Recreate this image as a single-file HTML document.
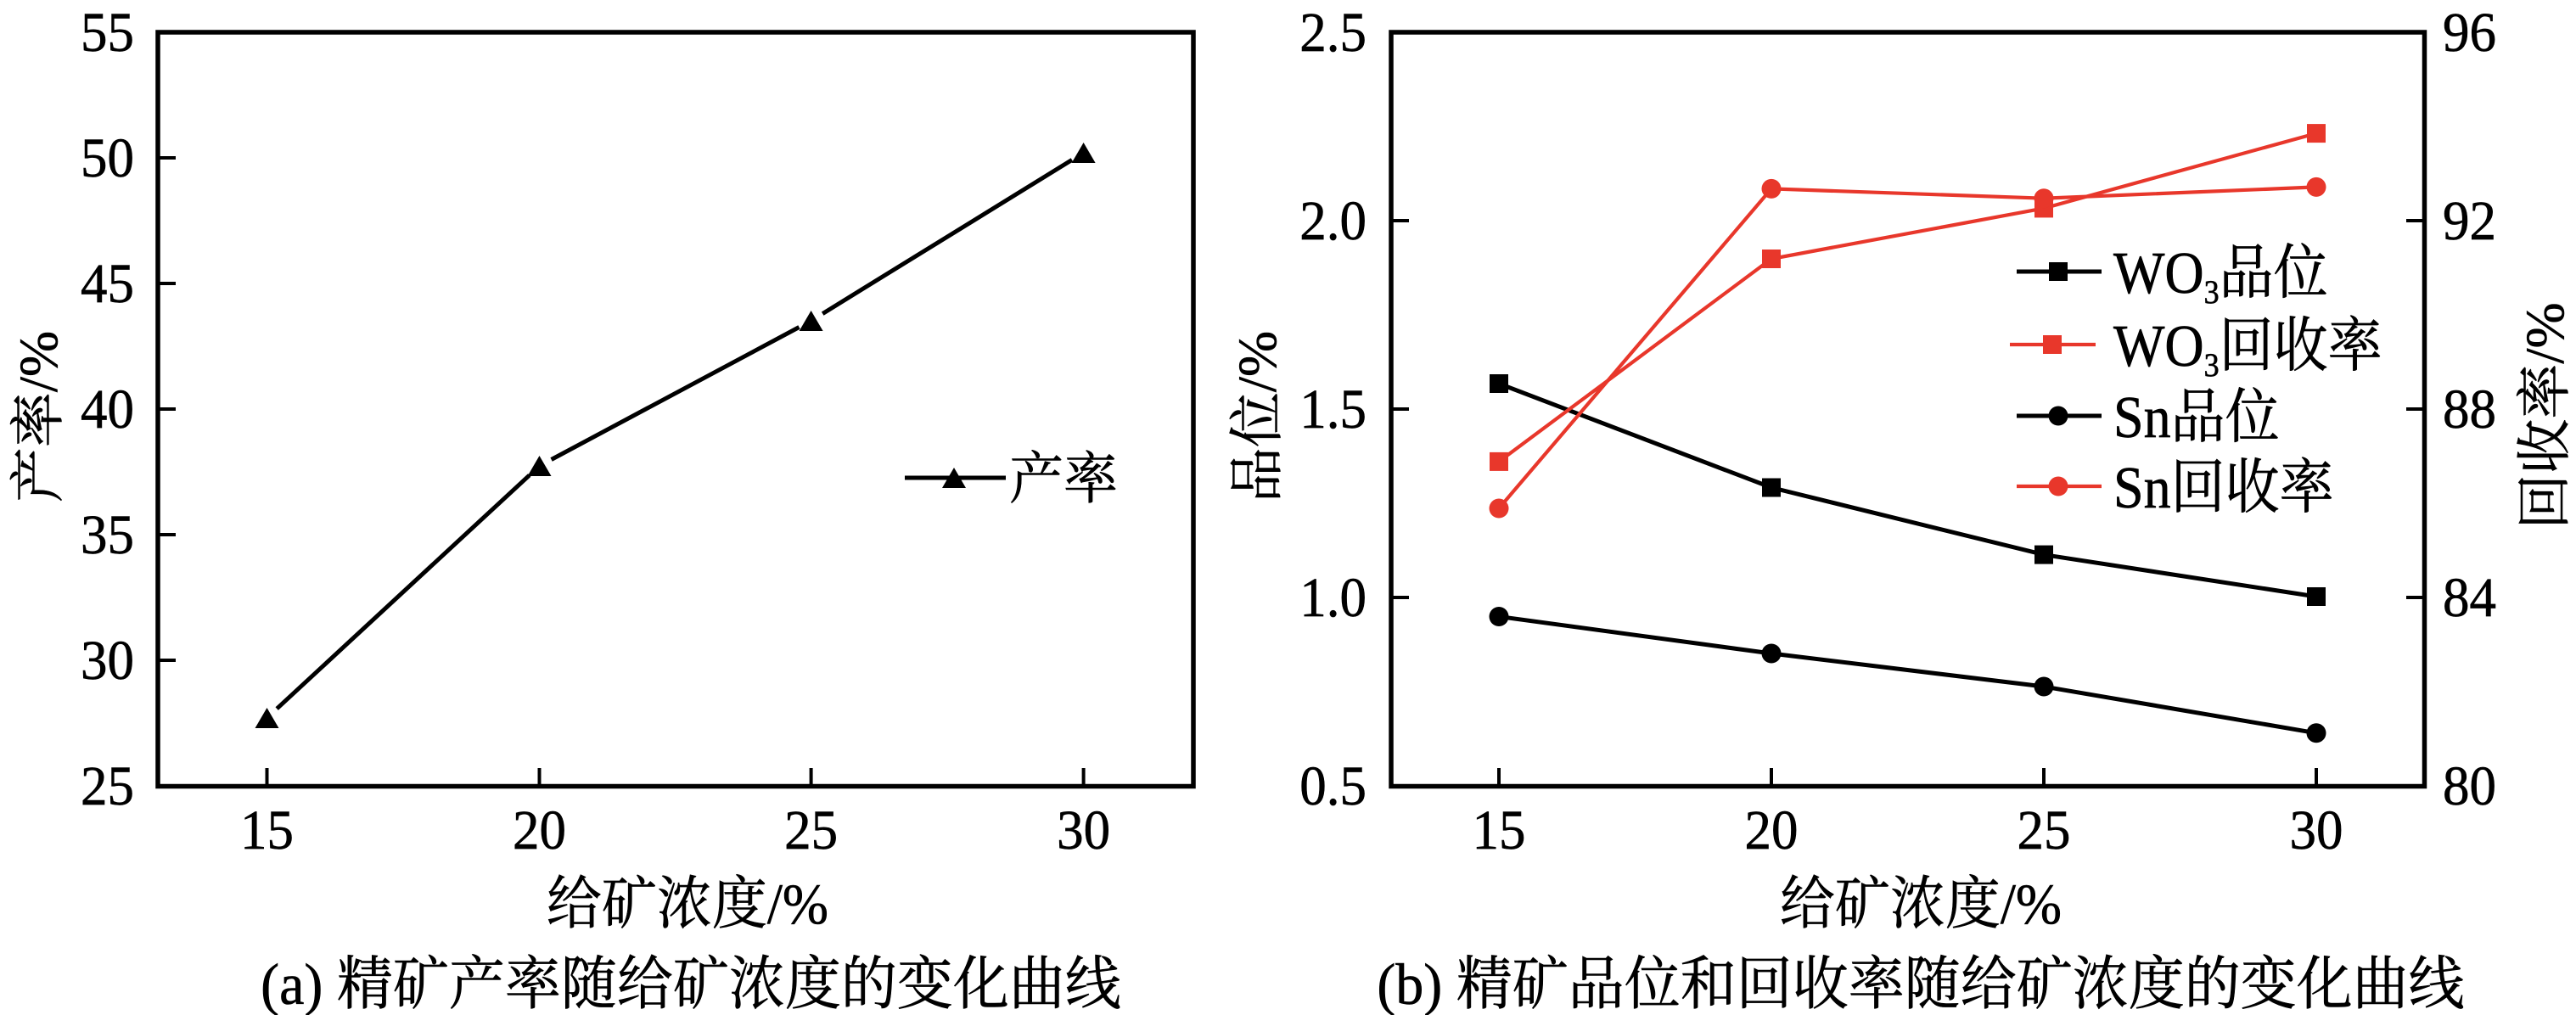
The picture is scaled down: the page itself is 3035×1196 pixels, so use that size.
<!DOCTYPE html>
<html><head><meta charset="utf-8"><style>
html,body{margin:0;padding:0;background:#fff;}
svg{display:block;}
text{font-family:"Liberation Serif","Noto Serif CJK SC",serif;fill:#000;stroke:#000;stroke-width:0.6;}
</style></head><body>
<svg width="3035" height="1196" viewBox="0 0 3035 1196" xmlns="http://www.w3.org/2000/svg">
<rect width="3035" height="1196" fill="#fff"/>

<!-- ===== Left panel ===== -->
<rect x="186" y="38" width="1220" height="888.5" fill="none" stroke="#000" stroke-width="5.5"/>
<g stroke="#000" stroke-width="4">
  <line x1="188" y1="186" x2="207" y2="186"/>
  <line x1="188" y1="334" x2="207" y2="334"/>
  <line x1="188" y1="482" x2="207" y2="482"/>
  <line x1="188" y1="630" x2="207" y2="630"/>
  <line x1="188" y1="778" x2="207" y2="778"/>
  <line x1="314.5" y1="924" x2="314.5" y2="905"/>
  <line x1="635.5" y1="924" x2="635.5" y2="905"/>
  <line x1="955.6" y1="924" x2="955.6" y2="905"/>
  <line x1="1276.6" y1="924" x2="1276.6" y2="905"/>
</g>
<g font-size="63" text-anchor="end">
  <text transform="translate(158,60) scale(1,1.05)">55</text>
  <text transform="translate(158,208) scale(1,1.05)">50</text>
  <text transform="translate(158,356) scale(1,1.05)">45</text>
  <text transform="translate(158,504) scale(1,1.05)">40</text>
  <text transform="translate(158,652) scale(1,1.05)">35</text>
  <text transform="translate(158,800) scale(1,1.05)">30</text>
  <text transform="translate(158,948) scale(1,1.05)">25</text>
</g>
<g font-size="63" text-anchor="middle">
  <text transform="translate(314.5,1000) scale(1,1.05)">15</text>
  <text transform="translate(635.5,1000) scale(1,1.05)">20</text>
  <text transform="translate(955.6,1000) scale(1,1.05)">25</text>
  <text transform="translate(1276.6,1000) scale(1,1.05)">30</text>
</g>
<text transform="translate(810,1088) scale(1,1.04)" font-size="65" text-anchor="middle">给矿浓度/%</text>
<text transform="translate(814,1183) scale(1,1.04)" font-size="66" text-anchor="middle">(a) 精矿产率随给矿浓度的变化曲线</text>
<text transform="translate(67,491) rotate(-90)" font-size="65" text-anchor="middle">产率/%</text>

<!-- data line with gaps -->
<g stroke="#000" stroke-width="5" fill="none">
  <line x1="326.2" y1="835.1" x2="623.8" y2="559.9"/>
  <line x1="649.6" y1="541.5" x2="941.5" y2="385.5"/>
  <line x1="969.2" y1="369.6" x2="1263" y2="188.4"/>
</g>
<g fill="#000">
  <polygon points="314.5,834 300.5,858 328.5,858"/>
  <polygon points="635.5,537 621.5,561 649.5,561"/>
  <polygon points="955.6,366 941.6,390 969.6,390"/>
  <polygon points="1276.6,168 1262.6,192 1290.6,192"/>
</g>
<!-- legend -->
<line x1="1066" y1="563" x2="1185" y2="563" stroke="#000" stroke-width="5"/>
<polygon points="1124,551 1110,575 1138,575" fill="#000"/>
<text transform="translate(1189,587) scale(1,1.04)" font-size="64">产率</text>

<!-- ===== Right panel ===== -->
<rect x="1639" y="38" width="1217.5" height="888.5" fill="none" stroke="#000" stroke-width="5.5"/>
<g stroke="#000" stroke-width="4">
  <line x1="1641" y1="260" x2="1660" y2="260"/>
  <line x1="1641" y1="482" x2="1660" y2="482"/>
  <line x1="1641" y1="704" x2="1660" y2="704"/>
  <line x1="2854" y1="260" x2="2835" y2="260"/>
  <line x1="2854" y1="482" x2="2835" y2="482"/>
  <line x1="2854" y1="704" x2="2835" y2="704"/>
  <line x1="1766" y1="924" x2="1766" y2="905"/>
  <line x1="2087" y1="924" x2="2087" y2="905"/>
  <line x1="2408" y1="924" x2="2408" y2="905"/>
  <line x1="2729" y1="924" x2="2729" y2="905"/>
</g>
<g font-size="63" text-anchor="end">
  <text transform="translate(1610,60) scale(1,1.05)">2.5</text>
  <text transform="translate(1610,282) scale(1,1.05)">2.0</text>
  <text transform="translate(1610,504) scale(1,1.05)">1.5</text>
  <text transform="translate(1610,726) scale(1,1.05)">1.0</text>
  <text transform="translate(1610,948) scale(1,1.05)">0.5</text>
</g>
<g font-size="63" text-anchor="start">
  <text transform="translate(2878,60) scale(1,1.05)">96</text>
  <text transform="translate(2878,282) scale(1,1.05)">92</text>
  <text transform="translate(2878,504) scale(1,1.05)">88</text>
  <text transform="translate(2878,726) scale(1,1.05)">84</text>
  <text transform="translate(2878,948) scale(1,1.05)">80</text>
</g>
<g font-size="63" text-anchor="middle">
  <text transform="translate(1766,1000) scale(1,1.05)">15</text>
  <text transform="translate(2087,1000) scale(1,1.05)">20</text>
  <text transform="translate(2408,1000) scale(1,1.05)">25</text>
  <text transform="translate(2729,1000) scale(1,1.05)">30</text>
</g>
<text transform="translate(2263,1088) scale(1,1.04)" font-size="65" text-anchor="middle">给矿浓度/%</text>
<text transform="translate(2263,1183) scale(1,1.04)" font-size="66" text-anchor="middle">(b) 精矿品位和回收率随给矿浓度的变化曲线</text>
<text transform="translate(1503,491) rotate(-90)" font-size="65" text-anchor="middle">品位/%</text>
<text transform="translate(3020,490) rotate(-90)" font-size="65" text-anchor="middle">回收率/%</text>

<!-- WO3 grade -->
<polyline points="1766,452 2087,574.5 2408,653.6 2729,703" fill="none" stroke="#000" stroke-width="5"/>
<g fill="#000">
  <rect x="1755" y="441" width="22" height="22"/>
  <rect x="2076" y="563.5" width="22" height="22"/>
  <rect x="2397" y="642.6" width="22" height="22"/>
  <rect x="2718" y="692" width="22" height="22"/>
</g>
<!-- Sn grade -->
<polyline points="1766,726.5 2087,770 2408,809 2729,863.8" fill="none" stroke="#000" stroke-width="5"/>
<g fill="#000">
  <circle cx="1766" cy="726.5" r="11.5"/>
  <circle cx="2087" cy="770" r="11.5"/>
  <circle cx="2408" cy="809" r="11.5"/>
  <circle cx="2729" cy="863.8" r="11.5"/>
</g>
<!-- WO3 recovery -->
<polyline points="1766,543.9 2087,305 2408,245.4 2729,157.1" fill="none" stroke="#e8372b" stroke-width="4.2"/>
<g fill="#e8372b">
  <rect x="1755" y="532.9" width="22" height="22"/>
  <rect x="2076" y="294" width="22" height="22"/>
  <rect x="2397" y="234.4" width="22" height="22"/>
  <rect x="2718" y="146.1" width="22" height="22"/>
</g>
<!-- Sn recovery -->
<polyline points="1766,599 2087,222.4 2408,233.7 2729,220.4" fill="none" stroke="#e8372b" stroke-width="4.2"/>
<g fill="#e8372b">
  <circle cx="1766" cy="599" r="11.5"/>
  <circle cx="2087" cy="222.4" r="11.5"/>
  <circle cx="2408" cy="233.7" r="11.5"/>
  <circle cx="2729" cy="220.4" r="11.5"/>
</g>

<!-- legend -->
<line x1="2376" y1="320" x2="2476" y2="320" stroke="#000" stroke-width="5"/>
<rect x="2414" y="309" width="22" height="22" fill="#000"/>
<text transform="translate(2490,345) scale(1,1.09)" font-size="64">WO<tspan font-size="36" dy="11">3</tspan><tspan dy="-11">品位</tspan></text>

<line x1="2368" y1="406" x2="2469" y2="406" stroke="#e8372b" stroke-width="4.2"/>
<rect x="2407" y="395" width="22" height="22" fill="#e8372b"/>
<text transform="translate(2490,431) scale(1,1.09)" font-size="64">WO<tspan font-size="36" dy="11">3</tspan><tspan dy="-11">回收率</tspan></text>

<line x1="2376" y1="490" x2="2476" y2="490" stroke="#000" stroke-width="5"/>
<circle cx="2425" cy="490" r="11.5" fill="#000"/>
<text transform="translate(2490,515) scale(1,1.09)" font-size="64">Sn品位</text>

<line x1="2376" y1="573" x2="2476" y2="573" stroke="#e8372b" stroke-width="4.2"/>
<circle cx="2425" cy="573" r="11.5" fill="#e8372b"/>
<text transform="translate(2490,598) scale(1,1.09)" font-size="64">Sn回收率</text>
</svg>
</body></html>
